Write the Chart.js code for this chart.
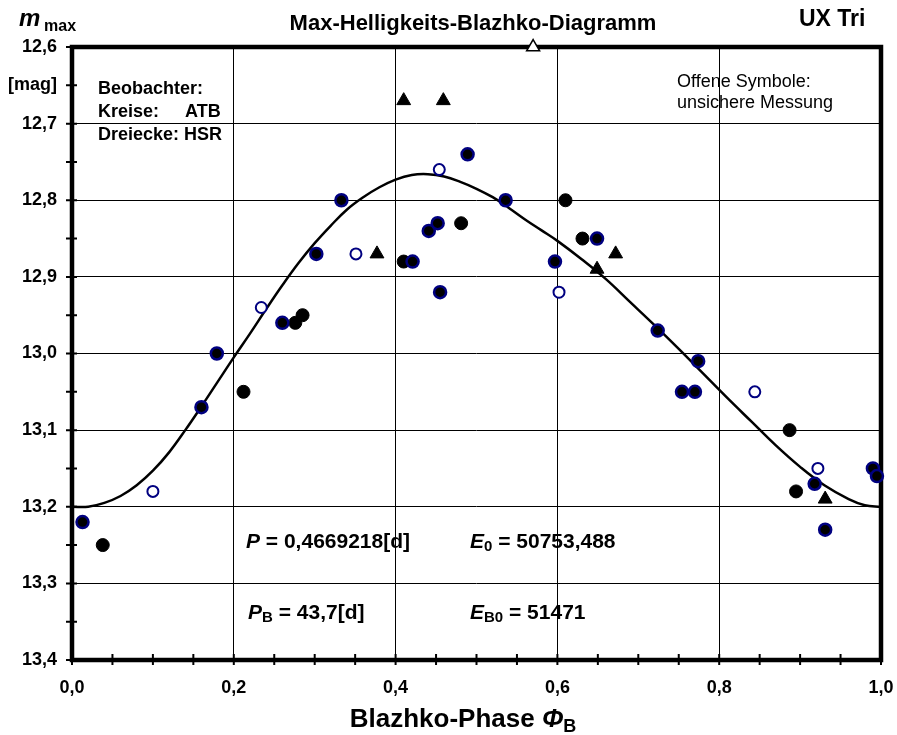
<!DOCTYPE html>
<html>
<head>
<meta charset="UTF-8">
<title>UX Tri - Max-Helligkeits-Blazhko-Diagramm</title>
<script src="https://cdn.jsdelivr.net/npm/chart.js"></script>
<style>
  html, body { margin: 0; padding: 0; background: #fff; }
</style>
</head>
<body>
<canvas id="chart" width="897" height="735"></canvas>
<script>
// ATB, schwarze Kreise mit blauem Rand
const atbPhase = [0.013, 0.160, 0.179, 0.260, 0.302, 0.333, 0.421, 0.441, 0.452, 0.455, 0.489, 0.536, 0.597, 0.649, 0.724, 0.754, 0.770, 0.774, 0.918, 0.931, 0.990, 0.995];
const atbMag   = [13.22, 13.07, 13.00, 12.96, 12.87, 12.80, 12.88, 12.84, 12.83, 12.92, 12.74, 12.80, 12.88, 12.85, 12.97, 13.05, 13.05, 13.01, 13.17, 13.23, 13.15, 13.16];

// ATB, schwarze Kreise ohne Rand
const atbBlackPhase = [0.038, 0.212, 0.276, 0.285, 0.410, 0.481, 0.610, 0.631, 0.887, 0.895];
const atbBlackMag   = [13.25, 13.05, 12.96, 12.95, 12.88, 12.83, 12.80, 12.85, 13.10, 13.18];

// ATB, offene Kreise (unsichere Messung)
const atbOpenPhase = [0.100, 0.234, 0.351, 0.454, 0.602, 0.844, 0.922];
const atbOpenMag   = [13.18, 12.94, 12.87, 12.76, 12.92, 13.05, 13.15];

// HSR, Dreiecke
const hsrPhase = [0.377, 0.410, 0.459, 0.649, 0.672, 0.931];
const hsrMag   = [12.87, 12.67, 12.67, 12.89, 12.87, 13.19];

// HSR, offenes Dreieck
const hsrOpenPhase = [0.570];
const hsrOpenMag   = [12.60];

// Ausgleichskurve
const fitPhase = [0.00, 0.02, 0.04, 0.06, 0.08, 0.10, 0.12, 0.14, 0.16, 0.18, 0.20, 0.22, 0.24, 0.26, 0.28, 0.30, 0.32, 0.34, 0.36, 0.38, 0.40, 0.42, 0.44, 0.46, 0.48, 0.50, 0.52, 0.54, 0.56, 0.58, 0.60, 0.63, 0.66, 0.69, 0.72, 0.75, 0.78, 0.81, 0.84, 0.87, 0.90, 0.93, 0.96, 0.98, 1.00];
const fitMag   = [13.200, 13.200, 13.195, 13.186, 13.172, 13.153, 13.129, 13.100, 13.069, 13.037, 13.005, 12.974, 12.942, 12.911, 12.882, 12.856, 12.833, 12.812, 12.796, 12.783, 12.773, 12.767, 12.766, 12.769, 12.776, 12.785, 12.796, 12.810, 12.825, 12.839, 12.853, 12.877, 12.903, 12.933, 12.963, 12.994, 13.026, 13.058, 13.089, 13.120, 13.148, 13.172, 13.190, 13.198, 13.200];

const FONT = '"Liberation Sans", Arial, sans-serif';
const NAVY = '#000080';

const pts = (xs, ys) => xs.map((x, i) => ({ x: x, y: ys[i] }));

// draws a row of text pieces, returns the end x
function drawRun(ctx, x, y, parts) {
  for (const p of parts) {
    ctx.font = p.font;
    ctx.fillText(p.t, x, y + (p.dy || 0));
    x += ctx.measureText(p.t).width;
  }
  return x;
}
function runWidth(ctx, parts) {
  let w = 0;
  for (const p of parts) { ctx.font = p.font; w += ctx.measureText(p.t).width; }
  return w;
}

const frame = {
  id: 'frame',
  beforeDatasetsDraw(chart) {
    const { ctx, chartArea: a, scales } = chart;
    ctx.save();
    ctx.strokeStyle = '#000';
    // tick marks crossing the axes
    ctx.lineWidth = 2;
    ctx.beginPath();
    for (const t of scales.x.ticks) {
      const px = scales.x.getPixelForValue(t.value);
      ctx.moveTo(px, a.bottom - 6);
      ctx.lineTo(px, a.bottom + 5);
    }
    for (const t of scales.y.ticks) {
      const py = scales.y.getPixelForValue(t.value);
      ctx.moveTo(a.left - 6, py);
      ctx.lineTo(a.left + 5, py);
    }
    ctx.stroke();
    ctx.lineWidth = 4.5;
    ctx.strokeRect(a.left, a.top, a.right - a.left, a.bottom - a.top);
    ctx.restore();
  },
  afterDraw(chart) {
    const ctx = chart.ctx;
    ctx.save();
    ctx.fillStyle = '#000';
    ctx.textBaseline = 'alphabetic';
    ctx.textAlign = 'left';
    const b = (s) => 'bold ' + s + 'px ' + FONT;
    const bi = (s) => 'italic bold ' + s + 'px ' + FONT;

    // y axis title
    drawRun(ctx, 19, 26, [{ t: 'm', font: bi(24) }]);
    drawRun(ctx, 44, 31, [{ t: 'max', font: b(16) }]);

    // title
    ctx.font = b(22);
    ctx.textAlign = 'center';
    ctx.fillText('Max-Helligkeits-Blazhko-Diagramm', 473, 30);
    ctx.textAlign = 'left';
    drawRun(ctx, 799, 26, [{ t: 'UX Tri', font: b(23) }]);

    // observers
    ctx.font = b(18);
    ctx.fillText('Beobachter:', 98, 94);
    ctx.fillText('Kreise:', 98, 117);
    ctx.fillText('ATB', 185, 117);
    ctx.fillText('Dreiecke: HSR', 98, 140);

    ctx.font = '18px ' + FONT;
    ctx.fillText('Offene Symbole:', 677, 87);
    ctx.fillText('unsichere Messung', 677, 108);

    // elements
    drawRun(ctx, 246, 548, [{ t: 'P', font: bi(21) }, { t: ' = 0,4669218[d]', font: b(21) }]);
    drawRun(ctx, 470, 548, [{ t: 'E', font: bi(21) }, { t: '0', font: b(15), dy: 3 }, { t: ' = 50753,488', font: b(21) }]);
    drawRun(ctx, 248, 619, [{ t: 'P', font: bi(21) }, { t: 'B', font: b(15), dy: 3 }, { t: ' = 43,7[d]', font: b(21) }]);
    drawRun(ctx, 470, 619, [{ t: 'E', font: bi(21) }, { t: 'B0', font: b(15), dy: 3 }, { t: ' = 51471', font: b(21) }]);

    // x axis title
    const xt = [{ t: 'Blazhko-Phase ', font: b(26) }, { t: '\u03A6', font: bi(26) }, { t: 'B', font: b(18), dy: 5 }];
    drawRun(ctx, 463 - runWidth(ctx, xt) / 2, 727, xt);
    ctx.restore();
  }
};

const pointSet = (data, opts) => Object.assign({
  data: data,
  showLine: false,
  clip: false,
  order: 1
}, opts);

new Chart(document.getElementById('chart'), {
  type: 'scatter',
  data: {
    datasets: [
      pointSet(pts(hsrOpenPhase, hsrOpenMag), { pointStyle: 'triangle', pointRadius: 7.5, pointBackgroundColor: '#fff', pointBorderColor: '#000', pointBorderWidth: 1.5 }),
      pointSet(pts(hsrPhase, hsrMag), { pointStyle: 'triangle', pointRadius: 8, pointBackgroundColor: '#000', pointBorderColor: '#000', pointBorderWidth: 1 }),
      pointSet(pts(atbPhase, atbMag), { pointRadius: 6, pointBackgroundColor: '#000', pointBorderColor: NAVY, pointBorderWidth: 2.5 }),
      pointSet(pts(atbBlackPhase, atbBlackMag), { pointRadius: 6.5, pointBackgroundColor: '#000', pointBorderColor: '#000', pointBorderWidth: 1 }),
      pointSet(pts(atbOpenPhase, atbOpenMag), { pointRadius: 5.5, pointBackgroundColor: '#fff', pointBorderColor: NAVY, pointBorderWidth: 2 }),
      {
        data: pts(fitPhase, fitMag),
        showLine: true,
        borderColor: '#000',
        borderWidth: 2.5,
        pointRadius: 0,
        tension: 0.4,
        order: 10
      }
    ]
  },
  options: {
    responsive: false,
    animation: false,
    layout: { padding: { top: 47, right: 16, bottom: 0, left: 0 } },
    plugins: { legend: { display: false }, tooltip: { enabled: false }, title: { display: false } },
    scales: {
      x: {
        type: 'linear',
        min: 0, max: 1,
        afterFit: (s) => { s.height = 75; s.paddingLeft = 0; s.paddingRight = 0; },
        border: { display: false },
        grid: {
          drawTicks: false,
          lineWidth: 1,
          color: (c) => (Math.round(c.tick.value * 100) % 20 === 0 ? '#000' : 'rgba(0,0,0,0)')
        },
        ticks: {
          stepSize: 0.05,
          autoSkip: false,
          maxRotation: 0,
          padding: 17,
          color: '#000',
          font: { family: FONT, size: 18, weight: 'bold' },
          callback: (v) => {
            const k = Math.round(v * 100);
            return k % 20 === 0 ? (k / 100).toFixed(1).replace('.', ',') : '';
          }
        }
      },
      y: {
        type: 'linear',
        reverse: true,
        min: 12.6, max: 13.4,
        afterFit: (s) => { s.width = 72; s.paddingTop = 0; s.paddingBottom = 0; },
        border: { display: false },
        grid: {
          drawTicks: false,
          lineWidth: 1,
          color: (c) => (Math.round(c.tick.value * 100) % 10 === 0 ? '#000' : 'rgba(0,0,0,0)')
        },
        ticks: {
          stepSize: 0.05,
          autoSkip: false,
          maxTicksLimit: 100,
          padding: 15,
          color: '#000',
          font: { family: FONT, size: 18, weight: 'bold' },
          callback: (v) => {
            const k = Math.round(v * 100);
            if (k === 1265) return '[mag]';
            return k % 10 === 0 ? (k / 100).toFixed(1).replace('.', ',') : '';
          }
        }
      }
    }
  },
  plugins: [frame]
});
</script>
</body>
</html>
